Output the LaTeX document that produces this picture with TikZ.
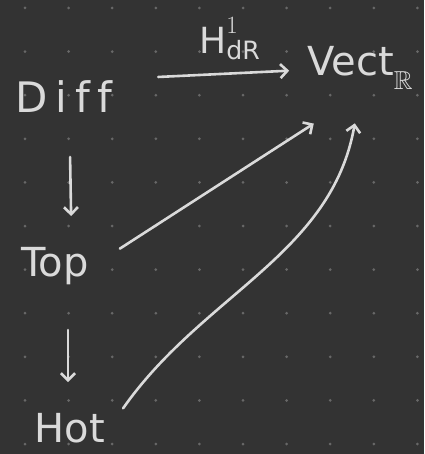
\documentclass[tikz,border=0pt]{standalone}
\usepackage{fontspec}
\usepackage{amssymb}
\setmainfont{DejaVu Sans}
\usetikzlibrary{arrows.meta,positioning}
\definecolor{boardbg}{HTML}{333333}
\definecolor{dotgrey}{HTML}{686868}
\definecolor{chalk}{HTML}{DADADA}

\begin{document}
\begin{tikzpicture}[
    x=1pt, y=-1pt,
    word/.style={text=chalk, font=\fontsize{40}{40}\selectfont, inner sep=4pt},
    arrow/.style={-{Straight Barb[length=7pt,width=14pt]}, draw=chalk, line width=2.6pt, line cap=round, line join=round}
]

% board
\fill[boardbg] (0,0) rectangle (424,454);
\foreach \i in {0,...,9}
    \foreach \j in {0,...,10}
        \fill[dotgrey] (25+43.6*\i, 8+43.6*\j) circle (1.5pt);

% objects
\node[word, font=\fontsize{42}{42}\selectfont\addfontfeatures{LetterSpace=18,Ligatures=NoCommon}] (diff) at (64, 97) {Diff};
\node[word] (top) at (55, 266) {Top};
\node[word] (hot) at (70, 428) {Hot};
\node[word] (vect) at (360, 68) {Vect\raisebox{-14pt}{\fontsize{26}{26}\selectfont$\mathbb{R}$}};

% maps
\draw[arrow, shorten <=42pt, shorten >=14pt] ([yshift=18pt]diff.east) -- node[above=10pt, xshift=20pt, text=chalk, font=\fontsize{36}{36}\selectfont] (derham) {$\mathrm{H}^{1}_{\mathrm{dR}}$} ([yshift=-2pt]vect.west);
\draw[arrow, shorten <=60pt, shorten >=50pt] ([xshift=5pt]diff.center) -- ([xshift=17pt]top.center);
\draw[arrow, shorten <=64pt, shorten >=46pt] ([xshift=13pt]top.center) -- ([xshift=-2pt]hot.center);
\draw[arrow, shorten <=32pt, shorten >=55pt] (top.east) -- (vect.south);
\draw[arrow, shorten <=24pt, shorten >=30pt] (hot.east) to[out=55, in=-100] (vect.south);

\end{tikzpicture}
\end{document}
